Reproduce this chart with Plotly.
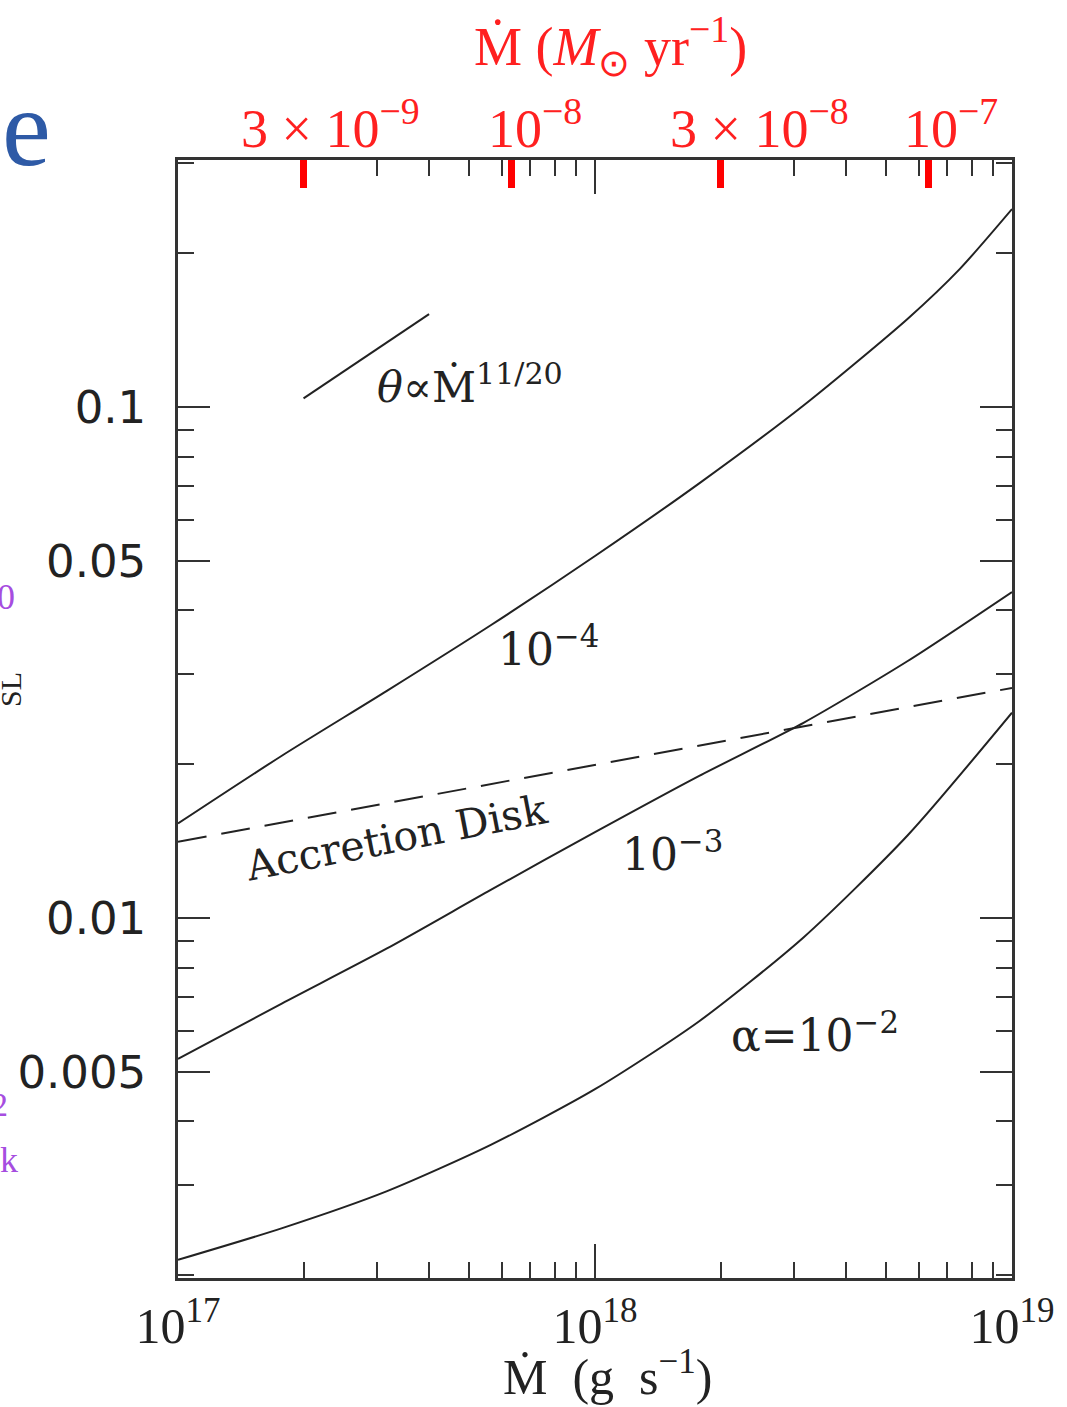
import plotly.graph_objects as go

# ---------------- data ----------------
mdot_grid = [1e17, 1.778e17, 3.162e17, 5.623e17, 1e18, 1.778e18, 3.162e18, 5.623e18, 1e19]

mdot_a4 = [1e17, 1.778e17, 3.162e17, 5.623e17, 1e18, 1.778e18, 3.162e18, 5.623e18, 7.5e18, 1e19]
theta_a4 = [0.01531, 0.0208, 0.0278, 0.0374, 0.0511, 0.0709, 0.1007, 0.1489, 0.1864, 0.2440]

theta_a3 = [0.00530, 0.00681, 0.00871, 0.01135, 0.01472, 0.01897, 0.02410, 0.03184, 0.04345]

theta_a2 = [0.002143, 0.002472, 0.002917, 0.003597, 0.004624, 0.006281, 0.009162, 0.01452, 0.02523]

mdot_disk = [1e17, 1e19]
theta_disk = [0.0141, 0.0282]

mdot_slope = [2e17, 4e17]
theta_slope = [0.104, 0.152]

# top axis: solar masses per year
top_tick_gs = [2e17, 6.3e17, 2e18, 6.3e18]
top_tick_labels = ["3 × 10<sup>−9</sup>", "10<sup>−8</sup>", "3 × 10<sup>−8</sup>", "10<sup>−7</sup>"]

x_major = [1e17, 1e18, 1e19]
x_major_labels = ["10<sup>17</sup>", "10<sup>18</sup>", "10<sup>19</sup>"]
x_minor = [m * 10 ** e for e in (17, 18) for m in range(2, 10)]

y_major = [0.005, 0.01, 0.05, 0.1]
y_major_labels = ["0.005", "0.01", "0.05", "0.1"]
y_minor = [m * 10 ** e for e in (-3, -2, -1) for m in range(2, 10)]
y_minor = [v for v in y_minor if v not in y_major]

XR = [17, 19]
YR = [-2.7045, -0.5166]

# ---------------- figure ----------------
W, H = 1067, 1407
L, R, T, B = 178, 1012, 160, 1278


def P(px, py):
    return (px - L) / (R - L), (B - py) / (B - T)


LINE = "#222222"
AX = "#333333"
fig = go.Figure()

for xs, ys in [(mdot_a4, theta_a4), (mdot_grid, theta_a3), (mdot_grid, theta_a2)]:
    fig.add_trace(go.Scatter(x=xs, y=ys, mode="lines",
                             line=dict(color=LINE, width=2, shape="spline", smoothing=0.7),
                             showlegend=False, hoverinfo="skip"))
fig.add_trace(go.Scatter(x=mdot_disk, y=theta_disk, mode="lines",
                         line=dict(color=LINE, width=2, dash="29px,15px"), showlegend=False, hoverinfo="skip"))
fig.add_trace(go.Scatter(x=mdot_slope, y=theta_slope, mode="lines",
                         line=dict(color=LINE, width=2), showlegend=False, hoverinfo="skip"))
# invisible trace for top axis
fig.add_trace(go.Scatter(x=[1e17, 1e19], y=[0.01, 0.01], xaxis="x2", mode="lines",
                         line=dict(width=0), showlegend=False, hoverinfo="skip", opacity=0))

fig.update_layout(
    width=W, height=H, autosize=False,
    margin=dict(l=L, r=W - R, t=T, b=H - B, pad=0),
    paper_bgcolor="white", plot_bgcolor="white",
    xaxis=dict(type="log", range=XR, showgrid=False, zeroline=False,
               showline=True, linecolor=AX, linewidth=2.5, mirror="ticks",
               ticks="inside", ticklen=34, tickwidth=2, tickcolor=AX,
               tickmode="array", tickvals=x_major, ticktext=x_major_labels,
               tickfont=dict(family="Liberation Serif", size=50, color="#222"),
               ticklabelstandoff=2,
               minor=dict(ticks="inside", ticklen=16, tickwidth=2, tickcolor=AX,
                          tickmode="array", tickvals=x_minor, showgrid=False)),
    xaxis2=dict(type="log", range=XR, overlaying="x", side="top", anchor="y",
                showgrid=False, zeroline=False, showline=False,
                ticks="inside", ticklen=28, tickwidth=7, tickcolor="#ff0000",
                tickmode="array", tickvals=top_tick_gs, showticklabels=False),
    yaxis=dict(type="log", range=YR, showgrid=False, zeroline=False,
               showline=True, linecolor=AX, linewidth=2.5, mirror="ticks",
               ticks="inside", ticklen=32, tickwidth=2, tickcolor=AX,
               tickmode="array", tickvals=y_major, ticktext=y_major_labels,
               tickfont=dict(family="DejaVu Sans", size=45, color="#222"),
               ticklabelstandoff=20,
               minor=dict(ticks="inside", ticklen=16, tickwidth=2, tickcolor=AX,
                          tickmode="array", tickvals=y_minor, showgrid=False)),
)

ann = []


def add_text(px, py, text, size, color="#222", family="Liberation Serif", angle=0, xanchor="center"):
    x, y = P(px, py)
    ann.append(dict(x=x, y=y, xref="paper", yref="paper", text=text, showarrow=False,
                    font=dict(family=family, size=size, color=color), textangle=angle,
                    xanchor=xanchor, yanchor="middle"))


# top red labels
for px, lab in zip([330, 535, 759, 951], top_tick_labels):
    add_text(px, 124, lab, 54, color="#ff2020")
add_text(610, 46, "Ṁ (<i>M</i><sub>⊙</sub> yr<sup>−1</sup>)", 54, color="#ff2020")
# bottom title
add_text(607, 1373, "Ṁ  (g  s<sup>−1</sup>)", 50)

# in-plot labels
add_text(548, 646, "10<sup>−4</sup>", 44, family="DejaVu Serif")
add_text(672, 851, "10<sup>−3</sup>", 44, family="DejaVu Serif")
add_text(815, 1032, "α=10<sup>−2</sup>", 44, family="DejaVu Serif")
add_text(470, 384, "<i>θ</i>∝Ṁ<sup>11/20</sup>", 43, family="DejaVu Serif")
add_text(396, 838, "Accretion Disk", 41, family="DejaVu Serif", angle=-11)

# fragments of the surrounding slide
add_text(0, 128, "e", 110, color="#2e5aa6", family="Liberation Serif", xanchor="left")
add_text(17, 597, "0", 36, color="#a64de0", family="Liberation Serif", xanchor="right")
add_text(10, 690, "SL", 30, color="#222", family="Liberation Serif", angle=-90)
add_text(10, 1104, "2", 34, color="#a64de0", family="Liberation Serif", xanchor="right")
add_text(20, 1160, "k", 36, color="#a64de0", family="Liberation Serif", xanchor="right")

fig.update_layout(annotations=ann)
fig.write_html("out.html")
